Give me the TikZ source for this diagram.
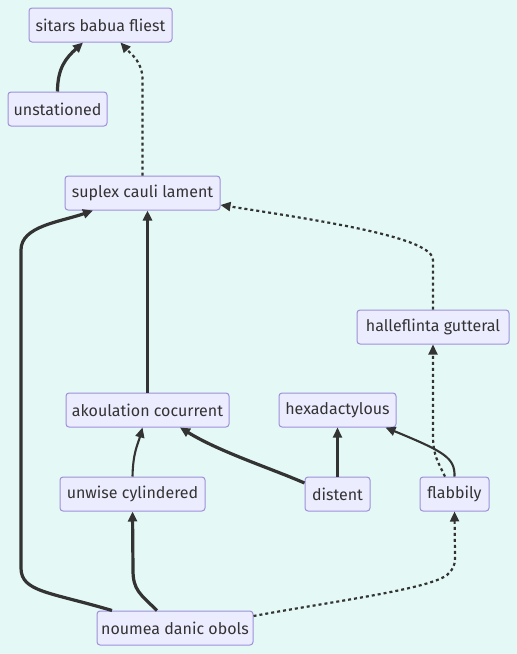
\documentclass[tikz,border=0pt]{standalone}
\usepackage{fontspec}
\setmainfont{Fira Sans}
\usetikzlibrary{arrows.meta}

\definecolor{bgmint}{HTML}{E4F9F5}
\definecolor{boxfill}{HTML}{ECECFF}
\definecolor{boxline}{HTML}{9F8FDB}
\definecolor{inkgray}{HTML}{333333}

\tikzset{
    box/.style={draw=boxline, fill=boxfill, line width=1pt, rounded corners=3pt,
        minimum height=34pt, inner sep=0pt, text=inkgray, font=\fontsize{16}{19}\selectfont},
    tip/.style={-{Triangle[length=10pt, width=9pt]}},
    thickline/.style={tip, inkgray, line width=3.2pt},
    normline/.style={tip, inkgray, line width=2.1pt},
    dotline/.style={tip, inkgray, line width=2.2pt, dash pattern=on 3pt off 3pt}
}

\begin{document}
\begin{tikzpicture}[x=1pt, y=-1pt]

    % ==========================================
    % CANVAS
    % ==========================================
    \fill[bgmint] (0,0) rectangle (517,654);
    \useasboundingbox (0,0) rectangle (517,654);

    % ==========================================
    % NODES
    % ==========================================
    \node[box, minimum width=143pt] (sitars) at (100.5,25) {sitars babua fliest};
    \node[box, minimum width=99pt] (unstat) at (57.5,109) {unstationed};
    \node[box, minimum width=155pt] (suplex) at (142.5,193) {suplex cauli lament};
    \node[box, minimum width=152pt] (halle) at (433,327) {halleflinta gutteral};
    \node[box, minimum width=163pt] (akoul) at (147.5,410) {akoulation cocurrent};
    \node[box, minimum width=117pt] (hexa) at (337.5,410) {hexadactylous};
    \node[box, minimum width=145pt] (unwise) at (132.5,494) {unwise cylindered};
    \node[box, minimum width=65pt] (distent) at (337.5,494) {distent};
    \node[box, minimum width=69pt] (flab) at (454.5,494) {flabbily};
    \node[box, minimum width=156pt] (noumea) at (175,628) {noumea danic obols};

    % ==========================================
    % CONNECTORS
    % ==========================================
    % to sitars babua fliest
    \draw[thickline] (unstat.north) .. controls (57.5,68) and (66,58) .. ([xshift=-17.5pt]sitars.south);
    \draw[dotline] (suplex.north) -- (142.5,80) .. controls (142.5,62) and (132,55) .. ([xshift=20pt]sitars.south);

    % to suplex cauli lament
    \draw[thickline] ([xshift=-63pt]noumea.north) .. controls (50,592) and (21,592) .. (21,568)
        -- (21,250) .. controls (21,226) and (60,222) .. ([xshift=-49.5pt]suplex.south);
    \draw[thickline] (akoul.north) -- (akoul.north |- suplex.south);
    \draw[dotline] (halle.north) -- (433,260) .. controls (433,238) and (330,222) .. ([yshift=-12pt]suplex.east);

    % to halleflinta gutteral
    \draw[dotline] ([xshift=-9.5pt]flab.north) .. controls (438,462) and (433,455) .. (433,436) -- (halle.south);

    % to akoulation cocurrent
    \draw[normline] (unwise.north) .. controls (133,452) and (138,444) .. ([xshift=-5pt]akoul.south);
    \draw[thickline] ([yshift=11pt]distent.west) .. controls (270,468) and (220,452) .. ([xshift=32.5pt]akoul.south);

    % to hexadactylous
    \draw[normline] (distent.north) -- (hexa.south);
    \draw[normline] (flab.north) .. controls (455,458) and (445,452) .. ([xshift=48pt]hexa.south);

    % to unwise cylindered
    \draw[thickline] ([xshift=-18pt]noumea.north) .. controls (140,594) and (133,590) .. (133,570) -- (unwise.south);

    % to flabbily
    \draw[dotline] ([yshift=12pt]noumea.east) .. controls (340,600) and (440,588) .. (450,572)
        .. controls (455,566) and (455,562) .. (455,555) -- (flab.south);

\end{tikzpicture}
\end{document}
